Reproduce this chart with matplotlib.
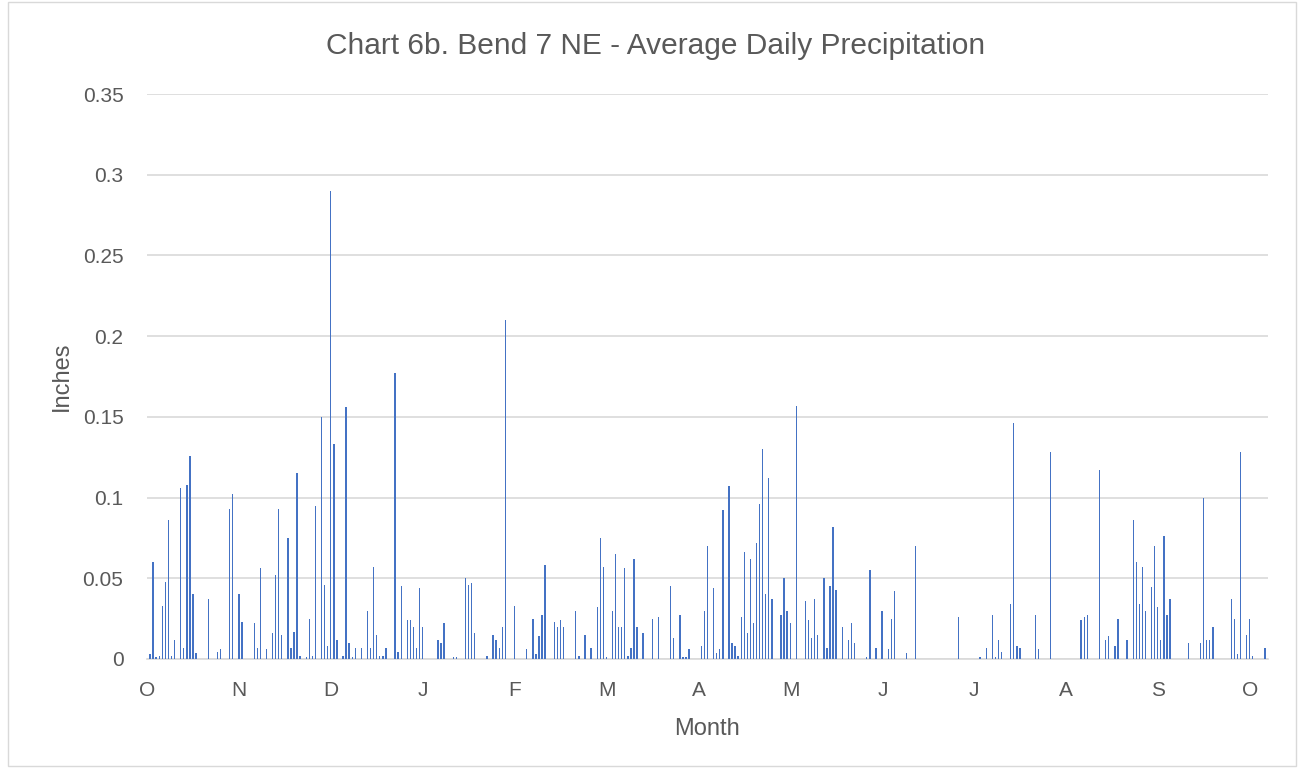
import matplotlib.pyplot as plt
from matplotlib.patches import Rectangle

# day index (0 = Oct 1) and average daily precipitation (inches)
rain_days = [0, 1, 2, 3, 4, 5, 6, 7, 8, 10, 11, 12, 13, 14, 15, 19, 22, 23, 26, 27,
             29, 30, 34, 35, 36, 38, 40, 41, 42, 43, 45, 46, 47, 48, 49, 51, 52, 53, 54, 56,
             57, 58, 59, 60, 61, 63, 64, 65, 66, 67, 69, 71, 72, 73, 74, 75, 76, 77, 80, 81,
             82, 84, 85, 86, 87, 88, 89, 94, 95, 96, 99, 100, 103, 104, 105, 106, 110, 112, 113, 114,
             115, 116, 119, 123, 125, 126, 127, 128, 129, 132, 133, 134, 135, 139, 140, 142, 144, 146, 147, 148,
             149, 151, 152, 153, 154, 155, 156, 157, 158, 159, 161, 164, 166, 170, 171, 173, 174, 175, 176, 180,
             181, 182, 184, 185, 186, 187, 189, 190, 191, 192, 193, 194, 195, 196, 197, 198, 199, 200, 201, 202,
             203, 206, 207, 208, 209, 211, 214, 215, 216, 217, 218, 220, 221, 222, 223, 224, 226, 228, 229, 230,
             234, 235, 237, 239, 241, 242, 243, 247, 250, 264, 271, 273, 275, 276, 277, 278, 281, 282, 283, 284,
             289, 290, 294, 304, 305, 306, 310, 312, 313, 315, 316, 319, 321, 322, 323, 324, 325, 327, 328, 329,
             330, 331, 332, 333, 339, 343, 344, 345, 346, 347, 353, 354, 355, 356, 358, 359, 360, 364]
rain_in = [0.003, 0.060, 0.001, 0.002, 0.033, 0.048, 0.086, 0.002, 0.012, 0.106, 0.007, 0.108, 0.126, 0.040, 0.0035, 0.037, 0.0045, 0.006, 0.093, 0.102,
           0.040, 0.023, 0.022, 0.007, 0.0565, 0.006, 0.016, 0.052, 0.093, 0.015, 0.075, 0.007, 0.017, 0.115, 0.002, 0.0015, 0.025, 0.002, 0.095, 0.150,
           0.046, 0.008, 0.290, 0.133, 0.012, 0.002, 0.156, 0.010, 0.0015, 0.007, 0.007, 0.030, 0.007, 0.057, 0.015, 0.002, 0.002, 0.007, 0.177, 0.0045,
           0.0455, 0.024, 0.024, 0.020, 0.007, 0.044, 0.020, 0.012, 0.010, 0.022, 0.0015, 0.0015, 0.050, 0.046, 0.047, 0.016, 0.002, 0.015, 0.012, 0.007,
           0.020, 0.210, 0.033, 0.006, 0.025, 0.003, 0.014, 0.027, 0.058, 0.023, 0.020, 0.024, 0.020, 0.030, 0.002, 0.015, 0.007, 0.032, 0.075, 0.057,
           0.0015, 0.030, 0.065, 0.020, 0.020, 0.0565, 0.002, 0.007, 0.062, 0.020, 0.016, 0.025, 0.026, 0.0455, 0.013, 0.027, 0.0015, 0.0015, 0.006, 0.008,
           0.030, 0.070, 0.044, 0.0035, 0.006, 0.092, 0.107, 0.010, 0.008, 0.002, 0.026, 0.066, 0.016, 0.062, 0.022, 0.072, 0.096, 0.130, 0.040, 0.112,
           0.037, 0.027, 0.050, 0.030, 0.022, 0.157, 0.036, 0.024, 0.013, 0.037, 0.015, 0.050, 0.007, 0.0455, 0.082, 0.043, 0.020, 0.012, 0.022, 0.010,
           0.0015, 0.055, 0.007, 0.030, 0.006, 0.025, 0.042, 0.0035, 0.070, 0.026, 0.0015, 0.007, 0.027, 0.0015, 0.012, 0.0045, 0.034, 0.146, 0.008, 0.007,
           0.027, 0.006, 0.128, 0.024, 0.026, 0.027, 0.117, 0.012, 0.014, 0.008, 0.025, 0.012, 0.086, 0.060, 0.034, 0.057, 0.030, 0.0445, 0.070, 0.032,
           0.012, 0.076, 0.027, 0.037, 0.010, 0.010, 0.100, 0.012, 0.012, 0.020, 0.037, 0.025, 0.003, 0.128, 0.015, 0.025, 0.002, 0.007]

month_labels = ["O", "N", "D", "J", "F", "M", "A", "M", "J", "J", "A", "S", "O"]
y_ticks = [0, 0.05, 0.1, 0.15, 0.2, 0.25, 0.3, 0.35]
y_labels = ["0", "0.05", "0.1", "0.15", "0.2", "0.25", "0.3", "0.35"]

plt.rcParams['font.family'] = ['Liberation Sans', 'DejaVu Sans']
text_col = "#595959"

fig = plt.figure(figsize=(13.04, 7.74), dpi=100)
ax = fig.add_axes([147 / 1304, 1 - 659 / 774, 1121 / 1304, 565 / 774])

ax.bar(rain_days, rain_in, width=0.45, color="#4472C4", zorder=3)

ax.set_xlim(-1, 365)
ax.set_ylim(0, 0.35)
ax.set_yticks(y_ticks)
ax.set_yticklabels(y_labels)
ax.set_xticks([i * 30 - 0.9 for i in range(13)])
ax.set_xticklabels(month_labels)
ax.tick_params(axis="both", length=0, labelsize=15, colors=text_col)
ax.tick_params(axis="x", pad=16)
ax.tick_params(axis="y", pad=17)

ax.grid(axis="y", color="#D9D9D9", linewidth=1.2, zorder=0)
for s in ["top", "right", "left"]:
    ax.spines[s].set_visible(False)
ax.spines["bottom"].set_color("#D9D9D9")
ax.spines["bottom"].set_linewidth(1.2)

ax.set_xlabel("Month", fontsize=17, color=text_col, labelpad=13)
ax.set_ylabel("Inches", fontsize=17, color=text_col, labelpad=7)
fig.text(0.503, 0.940, "Chart 6b. Bend 7 NE - Average Daily Precipitation",
         ha="center", va="center", fontsize=21.5, color=text_col)

fig.patches.append(Rectangle((8 / 1304, 8 / 774), 1288 / 1304, 764 / 774,
                             transform=fig.transFigure, fill=False,
                             edgecolor="#D9D9D9", linewidth=1))

fig.savefig("out.png", dpi=100)
